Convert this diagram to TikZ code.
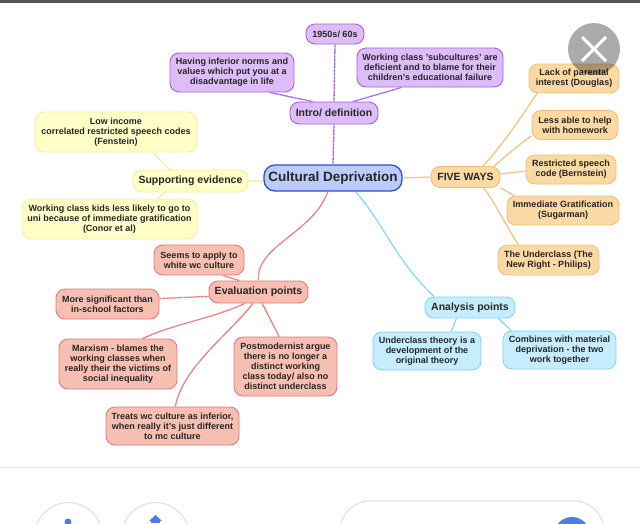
\documentclass[tikz,border=0pt]{standalone}
\usepackage{fontspec}
\setmainfont{Liberation Sans}
\usetikzlibrary{backgrounds}
\definecolor{inkc}{HTML}{262626}
\definecolor{purF}{HTML}{DDBDF7}\definecolor{purD}{HTML}{A860E0}
\definecolor{yelF}{HTML}{FFFFC8}\definecolor{yelD}{HTML}{F0F0A0}
\definecolor{orgF}{HTML}{FBD9A2}\definecolor{orgD}{HTML}{F0C078}
\definecolor{bluF}{HTML}{BCCBFA}\definecolor{bluD}{HTML}{2F50D8}
\definecolor{cyaF}{HTML}{C6EDFD}\definecolor{cyaD}{HTML}{85D6F0}
\definecolor{redF}{HTML}{F6BFB2}\definecolor{redD}{HTML}{E87A78}
\definecolor{ruleC}{HTML}{E2E2E2}
\definecolor{gblue}{HTML}{4A7FE8}
\tikzset{
  mapbox/.style={draw,line width=0.9pt,rounded corners=9pt,inner sep=0pt,align=center,text=inkc,font=\fontsize{9}{10}\selectfont\bfseries},
  sized/.style 2 args={minimum width=#1pt,minimum height=#2pt},
  purbox/.style={mapbox,fill=purF,draw=purD},
  yelbox/.style={mapbox,fill=yelF,draw=yelD},
  orgbox/.style={mapbox,fill=orgF,draw=orgD},
  cyabox/.style={mapbox,fill=cyaF,draw=cyaD},
  redbox/.style={mapbox,fill=redF,draw=redD},
  headfont/.style={font=\fontsize{10.5}{12}\selectfont\bfseries},
  link/.style={line width=1.3pt,dash pattern=on 1pt off 0.4pt},
  purlink/.style={link,draw=purD},
  yellink/.style={link,draw=yelD},
  orglink/.style={link,draw=orgD},
  cyalink/.style={link,draw=cyaD},
  redlink/.style={link,draw=redD},
  uiring/.style={draw=ruleC,line width=1.2pt},
}
\begin{document}
\begin{tikzpicture}[x=1pt,y=-1pt]
\useasboundingbox (0,0) rectangle (640,523);
\node[mapbox,fill=bluF,draw=bluD,line width=1.3pt,sized={138}{26},font=\fontsize{13.5}{15}\selectfont\bfseries,rounded corners=11pt] (cd) at (333,178) {Cultural Deprivation};
% purple
\node[purbox,sized={88}{22},headfont] (intro) at (334,113) {Intro/ definition};
\node[purbox,sized={58}{20}] (decade) at (335,34) {1950s/ 60s};
\node[purbox,sized={124}{39}] (norms) at (232,72.5) {Having inferior norms and\\values which put you at a\\disadvantage in life};
\node[purbox,sized={146}{39}] (subcult) at (430,67.5) {Working class 'subcultures' are\\deficient and to blame for their\\children's educational failure};
% orange
\node[orgbox,sized={69}{21},headfont] (five) at (465.5,177) {FIVE WAYS};
\node[orgbox,sized={90}{29}] (lack) at (574,78.5) {Lack of parental\\interest (Douglas)};
\node[orgbox,sized={86}{29}] (less) at (575,125) {Less able to help\\with homework};
\node[orgbox,sized={90}{29}] (restr) at (571,169.5) {Restricted speech\\code (Bernstein)};
\node[orgbox,sized={112}{29}] (immed) at (563,210.5) {Immediate Gratification\\(Sugarman)};
\node[orgbox,sized={101}{30}] (under) at (548.5,260) {The Underclass (The\\New Right - Philips)};
% cyan
\node[cyabox,sized={90}{21},headfont] (anal) at (470,307.5) {Analysis points};
\node[cyabox,sized={108}{38}] (utheory) at (427,351) {Underclass theory is a\\development of the\\original theory};
\node[cyabox,sized={113}{38}] (combine) at (559.5,350) {Combines with material\\deprivation - the two\\work together};
% yellow
\node[yelbox,sized={115}{22},headfont] (supp) at (190.5,181) {Supporting evidence};
\node[yelbox,sized={162}{40}] (low) at (116,132) {Low income\\correlated restricted speech codes\\(Fenstein)};
\node[yelbox,sized={175}{40}] (kids) at (109.5,219) {Working class kids less likely to go to\\uni because of immediate gratification\\(Conor et al)};
% red
\node[redbox,sized={99}{22},headfont] (eval) at (258.5,292) {Evaluation points};
\node[redbox,sized={90}{30}] (seems) at (199,260) {Seems to apply to\\white wc culture};
\node[redbox,sized={103}{30}] (more) at (107.5,304) {More significant than\\in-school factors};
\node[redbox,sized={118}{50}] (marx) at (118,364) {Marxism - blames the\\working classes when\\really their the victims of\\social inequality};
\node[redbox,sized={103}{59}] (post) at (285.5,366.5) {Postmodernist argue\\there is no longer a\\distinct working\\class today/ also no\\distinct underclass};
\node[redbox,sized={133}{38}] (treats) at (172.5,426) {Treats wc culture as inferior,\\when really it's just different\\to mc culture};
\begin{scope}[on background layer]
\fill[white] (0,0) rectangle (640,523);
\draw[purlink] (cd.north) -- (intro.south);
\draw[purlink] (intro.north) -- (decade.south);
\draw[purlink] (intro.152.4) -- (norms.-28.4);
\draw[purlink] (intro.31.4) -- (subcult.-145.1);
\draw[orglink] (cd.east) -- (five.west);
\draw[orglink] (five.32.2) .. controls +(20,-22) and +(-20,30) .. (lack.-158);
\draw[orglink] (five.21.8) .. controls +(12,-10) and +(-12,8) .. (less.-166.6);
\draw[orglink] (five.5) -- (restr.-178);
\draw[orglink] (five.-17.6) -- (immed.163.8);
\draw[orglink] (five.-31.2) .. controls +(12,16) and +(-14,-22) .. (under.153);
\draw[cyalink] (cd.-31) .. controls +(30,35) and +(-40,-38) .. (anal.163.3);
\draw[cyalink] (anal.-141) -- (utheory.39.6);
\draw[cyalink] (anal.-21.2) -- (combine.158.2);
\draw[yellink] (cd.west |- supp.east) -- (supp.east);
\draw[yellink] (supp.151.8) -- (low.-29);
\draw[yellink] (supp.-156.7) -- (kids.23.7);
\draw[redlink] (cd.-111) .. controls +(-15,42) and +(-3,-35) .. (eval.north);
\draw[redlink] (eval.149.3) -- (seems.-33);
\draw[redlink] (eval.-175.4) -- (more.6.6);
\draw[redlink] (eval.-140.8) .. controls +(-35,16) and +(35,-16) .. (marx.46.2);
\draw[redlink] (eval.-116.6) .. controls +(-25,32) and +(8,-40) .. (treats.82.5);
\draw[redlink] (eval.-72.3) -- (post.102.4);
\end{scope}
% close overlay
\fill[black,opacity=0.33] (594,49) circle (26);
\draw[white,line width=3pt] (582,37) -- (606,61) (606,37) -- (582,61);
% page chrome
\fill[black!67] (0,0) rectangle (640,3);
\draw[ruleC,line width=1.2pt] (0,467.5) -- (640,467.5);
\begin{scope}
\clip (0,0) rectangle (640,523);
\draw[uiring] (68.5,536) circle (33.5);
\draw[uiring] (155.5,536) circle (33.5);
\draw[uiring] (340,560) -- (340,531) arc (180:270:30) -- (574,501) arc (270:360:30) -- (604,560);
\fill[gblue] (572,535) circle (18);
\fill[gblue] (68,522) circle (3.5);
\fill[gblue] (155.5,515) -- (162,521) -- (149,521) -- cycle;
\fill[gblue] (151,521) rectangle (160,523);
\end{scope}
\end{tikzpicture}
\end{document}
